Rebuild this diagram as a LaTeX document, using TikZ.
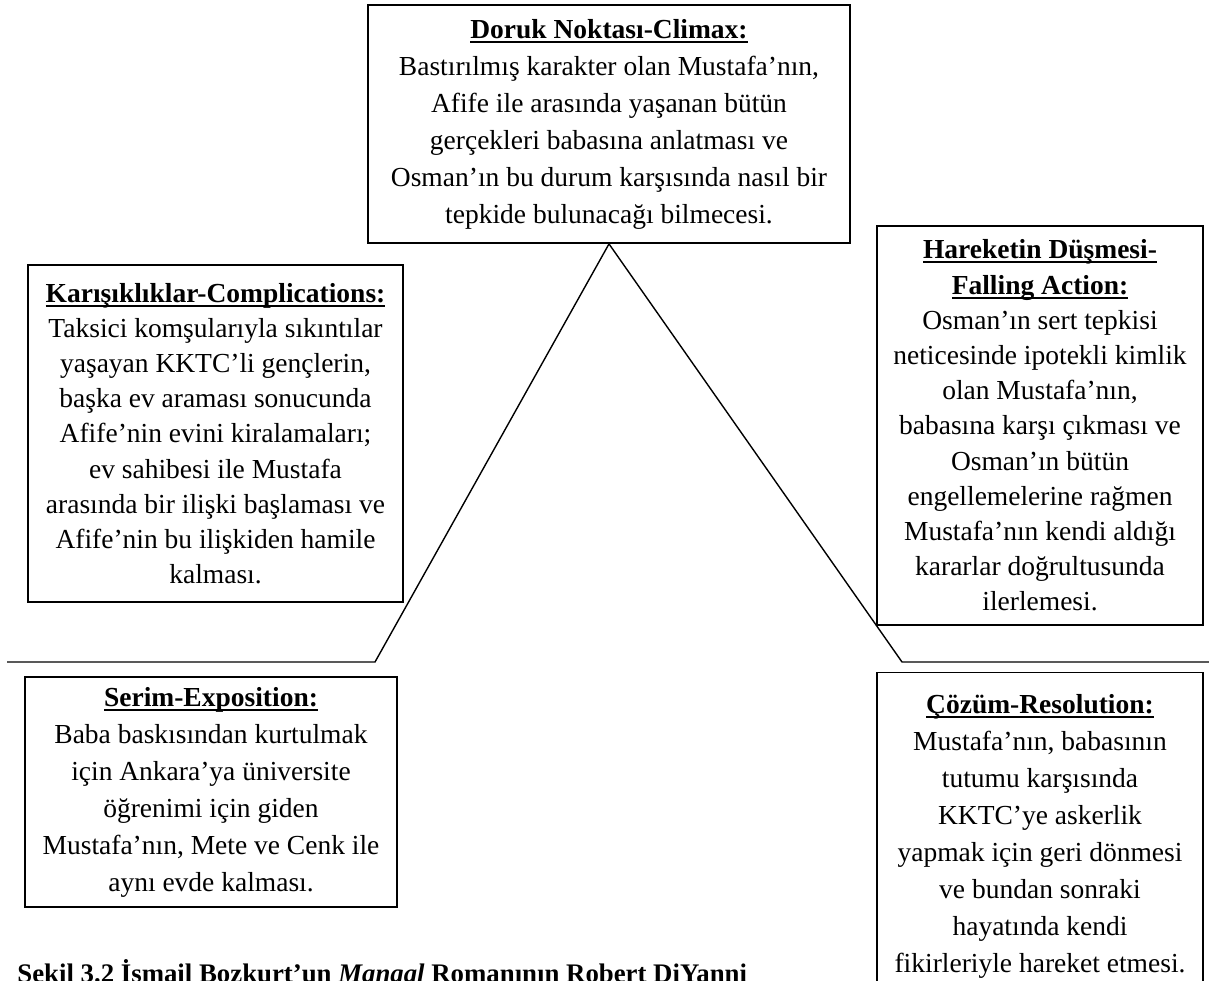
\documentclass[tikz,border=0pt]{standalone}
\usepackage{fontspec}
\setmainfont{Liberation Serif}
\usepackage{tikz}

\newcommand{\headul}[1]{\setbox0\hbox{\bfseries #1}\rlap{\rule[-2.3pt]{\wd0}{1pt}}\box0}

\begin{document}
\begin{tikzpicture}[
    x=0.5pt, y=-0.5pt,
    box/.style={rectangle, draw=black, line width=0.9pt, align=center, inner sep=0pt, font=\fontsize{13.75}{18.5}\selectfont},
    tightbox/.style={box, font=\fontsize{13.75}{17.6}\selectfont},
    plotline/.style={draw=black, line width=0.7pt},
    caption/.style={anchor=base west, inner sep=0pt, font=\fontsize{13.4}{18}\selectfont\bfseries}
]
    \useasboundingbox (0,0) rectangle (1209,980);

    \node [box, minimum width=241pt, minimum height=119pt] (climax) at (609,124)
        {\headul{Doruk Noktası-Climax:}\\Bastırılmış karakter olan Mustafa’nın,\\Afife ile arasında yaşanan bütün\\gerçekleri babasına anlatması ve\\Osman’ın bu durum karşısında nasıl bir\\tepkide bulunacağı bilmecesi.};
    \node [tightbox, minimum width=187.5pt, minimum height=168.5pt] (complications) at (215.5,433.5)
        {\headul{Karışıklıklar-Complications:}\\Taksici komşularıyla sıkıntılar\\yaşayan KKTC’li gençlerin,\\başka ev araması sonucunda\\Afife’nin evini kiralamaları;\\ev sahibesi ile Mustafa\\arasında bir ilişki başlaması ve\\Afife’nin bu ilişkiden hamile\\kalması.};
    \node [tightbox, minimum width=163pt, minimum height=199.5pt] (falling) at (1040,425.5)
        {\headul{Hareketin Düşmesi-}\\\headul{Falling Action:}\\Osman’ın sert tepkisi\\neticesinde ipotekli kimlik\\olan Mustafa’nın,\\babasına karşı çıkması ve\\Osman’ın bütün\\engellemelerine rağmen\\Mustafa’nın kendi aldığı\\kararlar doğrultusunda\\ilerlemesi.};
    \node [box, minimum width=186pt, minimum height=115pt] (exposition) at (211,792)
        {\headul{Serim-Exposition:}\\Baba baskısından kurtulmak\\için Ankara’ya üniversite\\öğrenimi için giden\\Mustafa’nın, Mete ve Cenk ile\\aynı evde kalması.};
    \node [box, minimum width=163pt, minimum height=163.5pt] (resolution) at (1040,836)
        {\headul{Çözüm-Resolution:}\\Mustafa’nın, babasının\\tutumu karşısında\\KKTC’ye askerlik\\yapmak için geri dönmesi\\ve bundan sonraki\\hayatında kendi\\fikirleriyle hareket etmesi.};

    % plot line
    \coordinate (leftend) at (7,662);
    \coordinate (leftfoot) at (375,662);
    \coordinate (rightfoot) at (902,662);
    \coordinate (rightend) at (1209,662);
    \draw [plotline] (leftend) -- (leftfoot) -- (climax.south) -- (rightfoot) -- (rightend);

    \node [caption] (figcaption) at (17,982) {Şekil 3.2 İsmail Bozkurt’un \textit{Mangal} Romanının Robert DiYanni};
\end{tikzpicture}
\end{document}
